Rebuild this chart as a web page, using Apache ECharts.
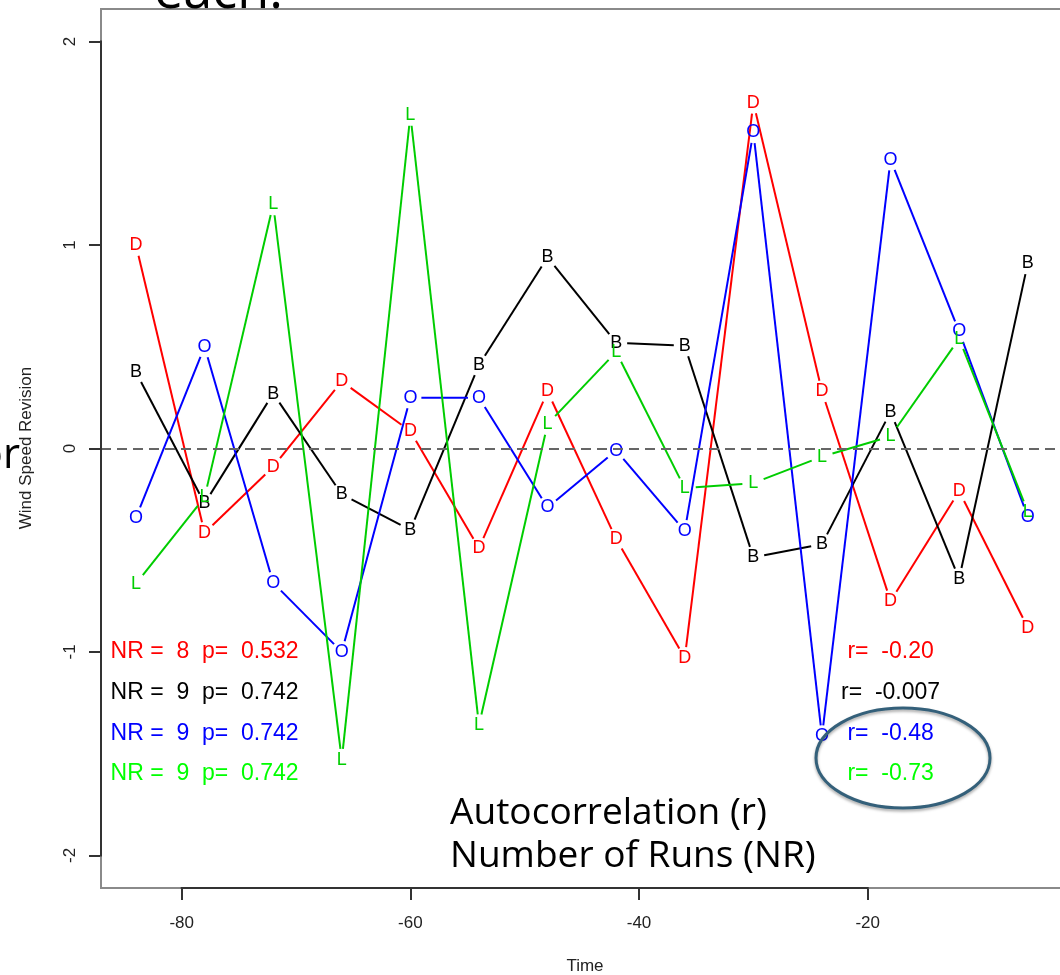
<!DOCTYPE html>
<html><head><meta charset="utf-8">
<script src="https://cdn.jsdelivr.net/npm/echarts@6/dist/echarts.min.js"></script>
<style>html,body{margin:0;padding:0;background:#fff}#c{width:1060px;height:975px}</style>
</head><body><div id="c"></div>
<script>
// ---- data ----
const times   = [-84,-78,-72,-66,-60,-54,-48,-42,-36,-30,-24,-18,-12,-6];
const seriesD = [1.00,-0.415,-0.09,0.33,0.085,-0.49,0.28,-0.445,-1.03,1.70,0.28,-0.75,-0.21,-0.88];
const seriesB = [0.375,-0.27,0.27,-0.225,-0.40,0.41,0.94,0.52,0.505,-0.535,-0.47,0.18,-0.64,0.91];
const seriesO = [-0.34,0.50,-0.66,-1.00,0.25,0.25,-0.29,-0.01,-0.405,1.555,-1.415,1.42,0.575,-0.335];
const seriesL = [-0.665,-0.24,1.20,-1.53,1.64,-1.36,0.12,0.475,-0.195,-0.17,-0.04,0.06,0.54,-0.31];
const xTicks = [-80,-60,-40,-20];
const yTicks = [-2,-1,0,1,2];
const runsText = ['NR =  8  p=  0.532','NR =  9  p=  0.742','NR =  9  p=  0.742','NR =  9  p=  0.742'];
const corrText = ['r=  -0.20','r=  -0.007','r=  -0.48','r=  -0.73'];

// ---- layout / style ----
const X_MIN = -87.06, X_MAX = -3.18, Y_MIN = -2.16, Y_MAX = 2.16;
const lineColors = {D:'#ff0000', B:'#000000', O:'#0000ff', L:'#00cd00'};
const textColors = ['#ff0000','#000000','#0000ff','#00ff00'];
const txtX = {runs:-78, corr:-18};
const txtY = [-1.0,-1.2,-1.4,-1.6];
const SANS = '"Liberation Sans", Arial, sans-serif';
const SLIDE = '"Open Sans", "Noto Sans", sans-serif';

function letterSeries(vals, letter) {
  const color = lineColors[letter];
  const n = times.length;
  const data = times.map((t,i)=>[t, vals[i], times[Math.min(i+1,n-1)], vals[Math.min(i+1,n-1)], i<n-1?1:0]);
  return {
    type:'custom', clip:false, encode:{x:0,y:1}, data,
    renderItem:(params, api)=>{
      const p = api.coord([api.value(0), api.value(1)]);
      const children = [];
      if (api.value(4)) {
        const q = api.coord([api.value(2), api.value(3)]);
        const dx=q[0]-p[0], dy=q[1]-p[1], d=Math.hypot(dx,dy), gap=11;
        if (d > 2*gap) {
          const ux=dx/d, uy=dy/d;
          children.push({type:'line', shape:{x1:p[0]+ux*gap,y1:p[1]+uy*gap,x2:q[0]-ux*gap,y2:q[1]-uy*gap},
            style:{stroke:color,lineWidth:2}});
        }
      }
      children.push({type:'text', x:p[0], y:p[1], style:{text:letter, fill:color,
        fontSize:18, fontFamily:SANS, align:'center', verticalAlign:'middle'}});
      return {type:'group', children};
    }
  };
}

function textSeries(texts, xval) {
  return {
    type:'custom', clip:false, encode:{x:0,y:1},
    data: texts.map((t,i)=>[xval, txtY[i], i]),
    renderItem:(params, api)=>{
      const p = api.coord([api.value(0), api.value(1)]);
      const i = api.value(2);
      return {type:'text', x:p[0], y:p[1], style:{text:texts[i], fill:textColors[i],
        fontSize:23, fontFamily:SANS, align:'center', verticalAlign:'middle'}};
    }
  };
}

function fitFont(text, targetW, family) {
  const c = document.createElement('canvas').getContext('2d');
  c.font = '100px ' + family;
  return 100 * targetW / c.measureText(text).width;
}
const slideSize = (fitFont('Autocorrelation (r)', 317, SLIDE) + fitFont('Number of Runs (NR)', 366, SLIDE)) / 2;
const eachSize = fitFont('each.', 129, SLIDE);

const chart = echarts.init(document.getElementById('c'), null, {renderer:'canvas'});
chart.setOption({
  animation:false,
  backgroundColor:'#fff',
  grid:{left:101, right:0, top:9, bottom:87, show:false},
  xAxis:{type:'value', min:X_MIN, max:X_MAX, splitLine:{show:false},
    axisLine:{show:false, onZero:false},
    axisTick:{show:true, customValues:xTicks, length:12, lineStyle:{color:'#333',width:2}},
    axisLabel:{customValues:xTicks, fontSize:17, fontFamily:SANS, color:'#222', margin:27}},
  yAxis:{type:'value', min:Y_MIN, max:Y_MAX, splitLine:{show:false},
    axisLine:{show:false, onZero:false},
    axisTick:{show:true, customValues:yTicks, length:12, lineStyle:{color:'#333',width:2}},
    axisLabel:{customValues:yTicks, rotate:90, fontSize:17, fontFamily:SANS, color:'#222', margin:22}},
  series:[
    {type:'line', data:[], markLine:{silent:true, symbol:'none', label:{show:false},
      lineStyle:{color:'#666', type:[10,6], width:2}, data:[{yAxis:0}]}},
    letterSeries(seriesD,'D'),
    letterSeries(seriesB,'B'),
    letterSeries(seriesO,'O'),
    letterSeries(seriesL,'L'),
    textSeries(runsText, txtX.runs),
    textSeries(corrText, txtX.corr)
  ]
});

// plot box (gray) and dark axis segments over the tick range (R style), positioned via the chart scales
const px = v => chart.convertToPixel({gridIndex:0}, v);
const cTL = px([X_MIN, Y_MAX]), cTR = px([X_MAX, Y_MAX]), cBL = px([X_MIN, Y_MIN]), cBR = px([X_MAX, Y_MIN]);
const pA = px([xTicks[0], Y_MIN]);
const pB = px([xTicks[xTicks.length-1], Y_MIN]);
const pC = px([X_MIN, yTicks[0]]);
const pD = px([X_MIN, yTicks[yTicks.length-1]]);
const boxStyle = {stroke:'#8a8a8a', lineWidth:2};

chart.setOption({
  graphic:[
    {type:'line', shape:{x1:cTL[0]-1,y1:cTL[1],x2:cTR[0]+2,y2:cTR[1]}, style:boxStyle, z:40},
    {type:'line', shape:{x1:cTL[0],y1:cTL[1],x2:cBL[0],y2:cBL[1]}, style:boxStyle, z:40},
    {type:'line', shape:{x1:cBL[0]-1,y1:cBL[1],x2:cBR[0]+2,y2:cBR[1]}, style:boxStyle, z:40},
    {type:'line', shape:{x1:pA[0]-1,y1:pA[1],x2:pB[0]+1,y2:pB[1]}, style:{stroke:'#333',lineWidth:2}, z:50},
    {type:'line', shape:{x1:pC[0],y1:pC[1]+1,x2:pD[0],y2:pD[1]-1}, style:{stroke:'#333',lineWidth:2}, z:50},
    {type:'text', x:26, y:448, rotation:Math.PI/2, style:{text:'Wind Speed Revision', fontSize:17, fontFamily:SANS, fill:'#222', align:'center', verticalAlign:'middle'}},
    {type:'text', x:585, y:966, style:{text:'Time', fontSize:17, fontFamily:SANS, fill:'#222', align:'center', verticalAlign:'middle'}},
    {type:'text', x:450, y:813, style:{text:'Autocorrelation (r)', fontSize:slideSize, fontFamily:SLIDE, fill:'#000', align:'left', verticalAlign:'middle'}, z:60},
    {type:'text', x:450, y:856, style:{text:'Number of Runs (NR)', fontSize:slideSize, fontFamily:SLIDE, fill:'#000', align:'left', verticalAlign:'middle'}, z:60},
    {type:'text', x:154, y:-7, style:{text:'each.', fontSize:eachSize, fontFamily:SLIDE, fill:'#000', align:'left', verticalAlign:'middle'}, z:60},
    {type:'text', x:20, y:456, style:{text:'or', fontSize:eachSize*0.8, fontFamily:SLIDE, fill:'#000', align:'right', verticalAlign:'middle'}, z:60},
    {type:'ellipse', shape:{cx:903, cy:758, rx:87, ry:50}, style:{fill:'none', stroke:'#34607a', lineWidth:3,
      shadowBlur:3, shadowColor:'rgba(0,0,0,0.35)', shadowOffsetY:2}, z:60}
  ]
});
</script></body></html>
